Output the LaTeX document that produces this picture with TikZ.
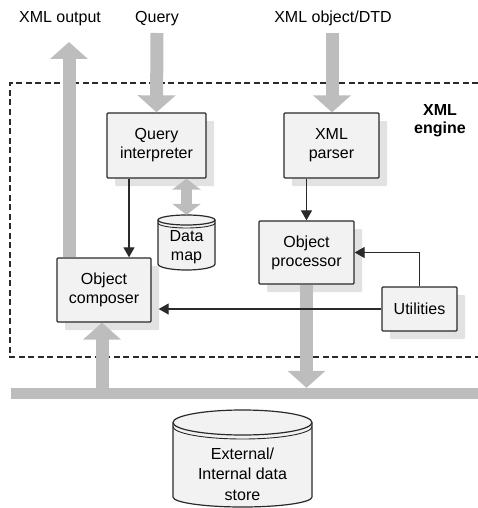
\documentclass[tikz,border=0pt]{standalone}
\usepackage{fontspec}
\setmainfont{Liberation Sans}
\usetikzlibrary{arrows.meta,shadows}
\newcommand{\fs}{\fontsize{16}{19}\selectfont}
\definecolor{arrgray}{HTML}{BDBDBD}
\definecolor{boxfill}{HTML}{F2F2F2}
\definecolor{shadowgray}{HTML}{E2E2E2}
\definecolor{edge}{HTML}{2A2A2A}
\begin{document}
\begin{tikzpicture}[x=1pt,y=-1pt,
  box/.style={draw=edge, line width=1.3pt, fill=boxfill, align=center, font=\fs, inner sep=0pt, rounded corners=1pt,
    drop shadow={shadow xshift=8pt, shadow yshift=-8pt, fill=shadowgray, opacity=1}},
  fat/.style={draw=arrgray, line width=13pt, -{Triangle[length=17pt,width=37pt]}},
  fatdbl/.style={draw=arrgray, line width=11pt, {Triangle[length=11pt,width=28pt]}-{Triangle[length=11pt,width=28pt]}},
  blk/.style={draw=edge, line width=1.2pt, -{Triangle[length=10pt,width=11pt]}},
  lbl/.style={font=\fs, anchor=base, inner sep=0pt},
  cyl/.style={draw=edge, line width=1.2pt, fill=boxfill},
  txt/.style={font=\fs, align=center, inner sep=0pt}
]
\useasboundingbox (0,0) rectangle (478,508);

% engine frame
\draw[edge, line width=1.2pt, dash pattern=on 6pt off 3.5pt] (478,83) -- (10,83) -- (10,357) -- (478,357);
\node[font=\bfseries\fontsize{16}{18}\selectfont, align=center, inner sep=0pt] (eng) at (440,121) {XML\\engine};

% top labels
\node[lbl] (lout) at (60,23) {XML output};
\node[lbl] (lq) at (157,23) {Query};
\node[lbl] (lx) at (333,23) {XML object/DTD};

% coordinates for free ends
\coordinate (qin) at (157,33);
\coordinate (xin) at (332,33);
\coordinate (xout) at (69,42);
\coordinate (cup) at (102,0);

% bus
\node[fill=arrgray, minimum width=467pt, minimum height=11pt, inner sep=0pt] (bus) at (244.5,393.5) {};

% boxes
\node[box, minimum width=99pt, minimum height=65pt] (qi) at (156.5,145.5) {Query\\interpreter};
\node[box, minimum width=95pt, minimum height=65pt] (xp) at (331.5,145.5) {XML\\parser};
\node[box, minimum width=95pt, minimum height=63pt] (op) at (306.5,252.5) {Object\\processor};
\node[box, minimum width=94pt, minimum height=64pt] (oc) at (104,290) {Object\\composer};
\node[box, minimum width=75pt, minimum height=44pt] (ut) at (419.5,309) {Utilities};

% gray arrows
\draw[fat] (qin) -- (qi.north);
\draw[fat] (xin) -- (xin |- xp.north);
\draw[fat] (xout |- oc.north) -- (xout);
\draw[fat] (op.south) -- (op.south |- bus.north);
\draw[fat] (cup |- bus.north) -- (cup |- oc.south);

% data map cylinder
\node[txt, minimum width=57pt, minimum height=60pt] (dm) at (186.5,245) {};
\draw[cyl] (158,220) -- (158,264) arc[start angle=180,end angle=0,x radius=28.5,y radius=6]
  -- (215,220) arc[start angle=0,end angle=-180,x radius=28.5,y radius=5] -- cycle;
\draw[edge, line width=1.2pt] (158,220) arc[start angle=180,end angle=0,x radius=28.5,y radius=5];
\draw[edge, line width=0.9pt] (158,223) arc[start angle=180,end angle=0,x radius=28.5,y radius=5];
\node[txt] (dmt) at (186.5,247) {Data\\map};
\draw[fatdbl] (dm.north |- qi.south) -- (dm.north);

% store cylinder
\draw[cyl] (173,422.5) -- (173,497) arc[start angle=180,end angle=0,x radius=69.5,y radius=10]
  -- (312,422.5) arc[start angle=0,end angle=-180,x radius=69.5,y radius=12.5] -- cycle;
\draw[edge, line width=1.2pt] (173,422.5) arc[start angle=180,end angle=0,x radius=69.5,y radius=12.5];
\draw[edge, line width=0.9pt] (173,426.5) arc[start angle=180,end angle=0,x radius=69.5,y radius=12.5];
\node[txt, font=\fontsize{16}{20.5}\selectfont] (st) at (242.5,474) {External/\\Internal data\\store};

% black arrows
\coordinate (qx) at (129,0);
\draw[blk] (qx |- qi.south) -- (qx |- oc.north);
\draw[blk] (xp.south -| op.north) -- (op.north);
\draw[blk] (ut.north) |- (op.east);
\draw[blk, shorten >=7pt] (ut.west) -- (ut.west -| oc.east);
\end{tikzpicture}
\end{document}
